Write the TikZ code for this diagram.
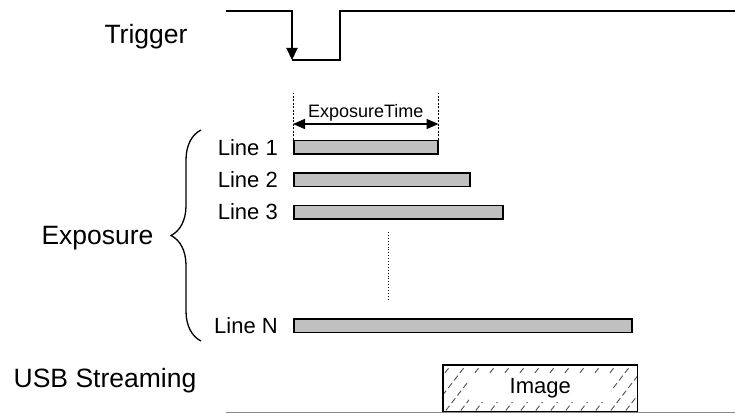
\documentclass[tikz,border=0pt]{standalone}
\usepackage{fontspec}
\setmainfont{Liberation Sans}
\usetikzlibrary{positioning, arrows.meta, decorations.pathreplacing}
\definecolor{barGray}{HTML}{C0C0C0}
\definecolor{lineGray}{HTML}{8A8A8A}
\definecolor{hatchGray}{HTML}{505050}
\tikzset{bar node/.style={draw, fill=barGray, line width=1.5pt, minimum height=13.5pt, inner sep=0pt, anchor=west},
  line label/.style={font=\fontsize{22}{24}\selectfont, inner sep=0pt},
  big label/.style={font=\fontsize{26.5}{28}\selectfont, inner sep=0pt},
  wave/.style={line width=2pt},
  guide/.style={line width=0.9pt, dash pattern=on 2pt off 1.5pt},
  hatch/.style={hatchGray, line width=0.9pt, dash pattern=on 6pt off 3.5pt},}

\begin{document}
\begin{tikzpicture}[x=1pt, y=-1pt]
        \useasboundingbox (0,0) rectangle (735,414);
        % Trigger
        \node[big label, anchor=base] (trig) at (146,44) {Trigger};
        \draw[wave, -{Triangle[length=12pt, width=11pt]}] (226,11) -- (292,11) -- (292,60);
        \draw[wave] (292,60) -- (340,60) -- (340,11) -- (735,11);
        % Exposure lines
        \node[bar node, minimum width=144pt] (bar1) at (293,147.5) {};
        \node[bar node, minimum width=176pt] (bar2) at (293,179.5) {};
        \node[bar node, minimum width=209pt] (bar3) at (293,212) {};
        \node[bar node, minimum width=338pt] (barN) at (293,325.5) {};
        \node[line label, left=15pt of bar1] (line1) {Line 1};
        \node[line label, left=15pt of bar2] (line2) {Line 2};
        \node[line label, left=15pt of bar3] (line3) {Line 3};
        \node[line label, left=15pt of barN] (lineN) {Line N};
        \draw[line width=0.9pt, dotted] (388,232) -- (388,300);
        % Exposure time
        \coordinate (expTopL) at ([yshift=47pt]bar1.north west);
        \coordinate (expTopR) at ([yshift=47pt]bar1.north east);
        \coordinate (expL) at ([yshift=16pt]bar1.north west);
        \coordinate (expR) at ([yshift=16pt]bar1.north east);
        \draw[guide] (bar1.north west) -- (expTopL);
        \draw[guide] (bar1.north east) -- (expTopR);
        \draw[line width=1.5pt, {Triangle[length=12pt, width=10pt]}-{Triangle[length=12pt, width=10pt]}] (expL) -- (expR)
            node[midway, above=2pt, inner sep=0pt, font=\fontsize{18}{20}\selectfont] (expTime) {ExposureTime};
        % Brace
        \draw[line width=1.3pt, decorate, decoration={brace, amplitude=30pt}] (201,341) -- (201,130);
        \node[big label, anchor=base] (expo) at (97.5,244) {Exposure};
        % USB streaming
        \node[minimum width=194pt, minimum height=46pt, inner sep=0pt, anchor=north west] (img) at (443,365) {};
        \node[big label, anchor=base] (usb) at (105,387) {USB Streaming};
        \begin{scope}
            \clip (img.south west) rectangle (img.north east);
            \foreach \i in {380,395,...,650}
                \draw[hatch] (\i,418) -- ++(48,-62);
        \end{scope}
        \node[fill=white, minimum width=142pt, minimum height=27pt, inner sep=0pt, font=\fontsize{22}{24}\selectfont] (imgText) at (img.center) {Image};
        \draw[line width=1.2pt] (img.south west) rectangle (img.north east);
        \draw[lineGray, line width=1.5pt] (226,412.5) -- (735,412.5);
    \end{tikzpicture}
\end{document}
